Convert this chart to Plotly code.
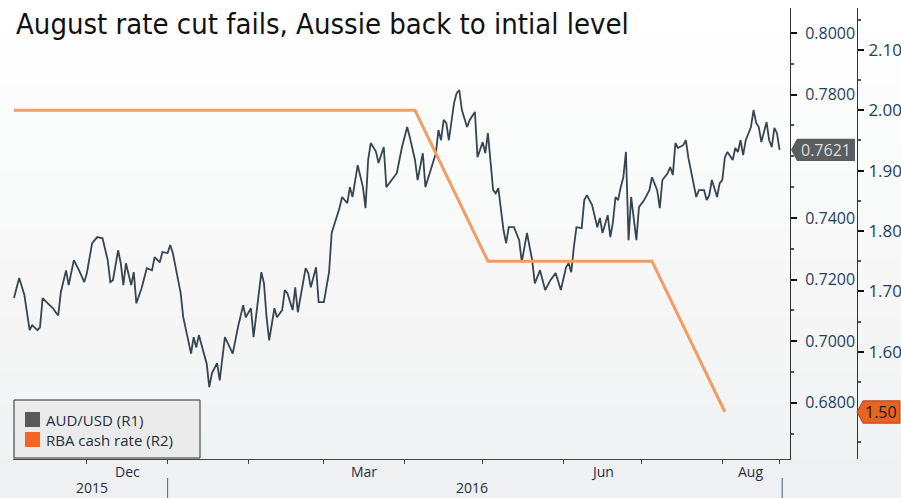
import plotly.graph_objects as go

# ---------------- data ----------------
aud_dates = [
    "2015-11-03", "2015-11-05", "2015-11-07", "2015-11-09", "2015-11-10", "2015-11-12", "2015-11-13",
    "2015-11-14", "2015-11-16", "2015-11-18", "2015-11-19", "2015-11-20", "2015-11-21", "2015-11-23",
    "2015-11-24", "2015-11-26", "2015-11-28", "2015-11-30", "2015-12-01", "2015-12-03", "2015-12-05",
    "2015-12-07", "2015-12-09", "2015-12-10", "2015-12-11", "2015-12-13", "2015-12-14", "2015-12-15",
    "2015-12-16", "2015-12-18", "2015-12-19", "2015-12-20", "2015-12-22", "2015-12-24", "2015-12-26",
    "2015-12-27", "2015-12-29", "2015-12-30", "2016-01-01", "2016-01-02", "2016-01-03", "2016-01-05",
    "2016-01-06", "2016-01-07", "2016-01-08", "2016-01-10", "2016-01-11", "2016-01-12", "2016-01-13",
    "2016-01-15", "2016-01-16", "2016-01-17", "2016-01-18", "2016-01-20", "2016-01-21", "2016-01-23",
    "2016-01-25", "2016-01-26", "2016-01-28", "2016-01-30", "2016-01-31", "2016-02-02", "2016-02-03",
    "2016-02-06", "2016-02-07", "2016-02-08", "2016-02-09", "2016-02-11", "2016-02-12", "2016-02-14",
    "2016-02-15", "2016-02-16", "2016-02-18", "2016-02-19", "2016-02-20", "2016-02-23", "2016-02-24",
    "2016-02-25", "2016-02-27", "2016-02-28", "2016-03-01", "2016-03-03", "2016-03-04", "2016-03-06",
    "2016-03-07", "2016-03-08", "2016-03-10", "2016-03-11", "2016-03-12", "2016-03-14", "2016-03-16",
    "2016-03-17", "2016-03-18", "2016-03-19", "2016-03-21", "2016-03-22", "2016-03-24", "2016-03-25",
    "2016-03-27", "2016-03-29", "2016-03-31", "2016-04-02", "2016-04-03", "2016-04-05", "2016-04-06",
    "2016-04-08", "2016-04-09", "2016-04-11", "2016-04-13", "2016-04-14", "2016-04-15", "2016-04-16",
    "2016-04-17", "2016-04-18", "2016-04-20", "2016-04-21", "2016-04-22", "2016-04-23", "2016-04-25",
    "2016-04-26", "2016-04-28", "2016-04-29", "2016-05-01", "2016-05-02", "2016-05-03", "2016-05-05",
    "2016-05-06", "2016-05-07", "2016-05-09", "2016-05-10", "2016-05-11", "2016-05-13", "2016-05-15",
    "2016-05-16", "2016-05-18", "2016-05-20", "2016-05-21", "2016-05-23", "2016-05-25", "2016-05-27",
    "2016-05-29", "2016-05-31", "2016-06-02", "2016-06-03", "2016-06-04", "2016-06-05", "2016-06-06",
    "2016-06-08", "2016-06-09", "2016-06-10", "2016-06-12", "2016-06-14", "2016-06-15", "2016-06-16",
    "2016-06-18", "2016-06-19", "2016-06-20", "2016-06-21", "2016-06-22", "2016-06-23", "2016-06-24",
    "2016-06-25", "2016-06-26", "2016-06-27", "2016-06-28", "2016-06-29", "2016-06-30", "2016-07-02",
    "2016-07-04", "2016-07-05", "2016-07-07", "2016-07-08", "2016-07-09", "2016-07-11", "2016-07-12",
    "2016-07-13", "2016-07-14", "2016-07-15", "2016-07-17", "2016-07-18", "2016-07-19", "2016-07-21",
    "2016-07-22", "2016-07-23", "2016-07-25", "2016-07-26", "2016-07-27", "2016-07-28", "2016-07-30",
    "2016-07-31", "2016-08-01", "2016-08-02", "2016-08-03", "2016-08-05", "2016-08-06", "2016-08-07",
    "2016-08-08", "2016-08-09", "2016-08-10", "2016-08-12", "2016-08-13", "2016-08-14", "2016-08-15",
    "2016-08-16", "2016-08-18", "2016-08-19", "2016-08-20", "2016-08-21", "2016-08-22", "2016-08-23",
]
aud_values = [
    0.7140, 0.7205, 0.7150, 0.7036, 0.7052, 0.7036, 0.7045,
    0.7140, 0.7123, 0.7107, 0.7094, 0.7084, 0.7159, 0.7230,
    0.7182, 0.7263, 0.7230, 0.7192, 0.7221, 0.7318, 0.7338,
    0.7334, 0.7263, 0.7192, 0.7198, 0.7295, 0.7253, 0.7182,
    0.7253, 0.7182, 0.7224, 0.7123, 0.7172, 0.7237, 0.7230,
    0.7273, 0.7256, 0.7289, 0.7286, 0.7312, 0.7286, 0.7205,
    0.7157, 0.7078, 0.7035, 0.6960, 0.7013, 0.6980, 0.7020,
    0.6961, 0.6927, 0.6851, 0.6896, 0.6929, 0.6873, 0.7013,
    0.6980, 0.6960, 0.7045, 0.7117, 0.7078, 0.7107, 0.7013,
    0.7224, 0.7188, 0.7078, 0.7003, 0.7107, 0.7078, 0.7101,
    0.7166, 0.7156, 0.7101, 0.7175, 0.7094, 0.7237, 0.7221,
    0.7175, 0.7240, 0.7127, 0.7127, 0.7224, 0.7351, 0.7403,
    0.7432, 0.7468, 0.7448, 0.7500, 0.7468, 0.7571, 0.7500,
    0.7432, 0.7588, 0.7643, 0.7615, 0.7578, 0.7630, 0.7500,
    0.7523, 0.7545, 0.7630, 0.7695, 0.7662, 0.7588, 0.7523,
    0.7610, 0.7500, 0.7555, 0.7610, 0.7685, 0.7652, 0.7718,
    0.7708, 0.7652, 0.7773, 0.7805, 0.7815, 0.7750, 0.7695,
    0.7718, 0.7744, 0.7597, 0.7646, 0.7610, 0.7675, 0.7490,
    0.7480, 0.7497, 0.7360, 0.7318, 0.7370, 0.7370, 0.7328,
    0.7257, 0.7351, 0.7263, 0.7188, 0.7230, 0.7166, 0.7198,
    0.7221, 0.7166, 0.7240, 0.7253, 0.7224, 0.7305, 0.7370,
    0.7367, 0.7458, 0.7474, 0.7442, 0.7370, 0.7400, 0.7351,
    0.7409, 0.7338, 0.7386, 0.7468, 0.7458, 0.7500, 0.7532,
    0.7614, 0.7328, 0.7468, 0.7393, 0.7328, 0.7435, 0.7458,
    0.7490, 0.7532, 0.7490, 0.7432, 0.7523, 0.7545, 0.7565,
    0.7539, 0.7643, 0.7627, 0.7636, 0.7652, 0.7594, 0.7513,
    0.7468, 0.7490, 0.7490, 0.7458, 0.7474, 0.7523, 0.7468,
    0.7513, 0.7523, 0.7597, 0.7614, 0.7588, 0.7627, 0.7614,
    0.7652, 0.7604, 0.7652, 0.7695, 0.7750, 0.7708, 0.7695,
    0.7646, 0.7711, 0.7652, 0.7630, 0.7692, 0.7675, 0.7621,
]

rba_dates = ["2015-11-03", "2015-12-01", "2016-02-02", "2016-03-01", "2016-04-05",
             "2016-05-03", "2016-06-07", "2016-07-05", "2016-08-02"]
rba_values = [2.00, 2.00, 2.00, 2.00, 2.00, 1.75, 1.75, 1.75, 1.50]

series_names = ["AUD/USD (R1)", "RBA cash rate (R2)"]
title_text = "August rate cut fails, Aussie back to intial level"

r1_ticks = [0.68, 0.70, 0.72, 0.74, 0.78, 0.80]
r2_ticks = [1.60, 1.70, 1.80, 1.90, 2.00, 2.10]
month_ticks = ["2015-12-01", "2016-01-01", "2016-02-01", "2016-03-01", "2016-04-01",
               "2016-05-01", "2016-06-01", "2016-07-01", "2016-08-01", "2016-08-23"]
month_labels = ["Dec", "Mar", "Jun", "Aug"]
month_label_pos = ["2015-12-16 12:00", "2016-03-16 12:00", "2016-06-16", "2016-08-12"]
year_labels = ["2015", "2016"]
year_label_pos = ["2015-12-03", "2016-04-27"]
year_breaks = ["2016-01-01", "2016-08-24"]

# ---------------- style ----------------
TITLE_FONT = "Liberation Sans Narrow, DejaVu Sans Condensed, sans-serif"
FONT = "Open Sans, Noto Sans, DejaVu Sans, sans-serif"
AUD_COLOR = "#36454f"
RBA_COLOR = "#f39c63"
RBA_LEGEND = "#f26522"
TICK_COLOR = "#1f3f60"
TEXT_DARK = "#1e2e3e"

W, H = 901, 498
ML, MR, MT, MB = 13, 44, 8, 39
PW = W - ML - MR
PH = H - MT - MB


def px_x(p):
    return (p - ML) / PW


def px_y(p):
    return (H - MB - p) / PH


fig = go.Figure()

fig.add_trace(go.Scatter(x=aud_dates, y=aud_values, mode="lines",
                         line=dict(color=AUD_COLOR, width=1.8),
                         showlegend=False, yaxis="y", name=series_names[0]))
fig.add_trace(go.Scatter(x=rba_dates, y=rba_values, mode="lines",
                         line=dict(color=RBA_COLOR, width=3),
                         showlegend=False, yaxis="y2", name=series_names[1]))

shapes = []
# background gradient bands
n = 16
for i in range(n):
    t = i / (n - 1)
    c0 = (255, 255, 255)
    c1 = (241, 242, 243)
    col = tuple(int(round(a + (b - a) * t)) for a, b in zip(c0, c1))
    shapes.append(dict(type="rect", xref="paper", yref="paper",
                       x0=-0.02, x1=1.07, y0=1.02 - (i + 1) * 1.02 / n, y1=1.02 - i * 1.02 / n,
                       fillcolor="rgb(%d,%d,%d)" % col, line=dict(width=0), layer="below"))
shapes.append(dict(type="rect", xref="paper", yref="paper", x0=-0.02, x1=1.07,
                   y0=-0.2, y1=0, fillcolor="#eef0f1", line=dict(width=0), layer="below"))
# year separators
for d in year_breaks:
    shapes.append(dict(type="line", xref="x", yref="paper", x0=d, x1=d,
                       y0=px_y(478), y1=px_y(499), line=dict(color="#3f6a96", width=1)))

# legend box and swatches
shapes.append(dict(type="rect", xref="paper", yref="paper",
                   x0=px_x(14), x1=px_x(200), y0=px_y(458), y1=px_y(400),
                   fillcolor="#ebebeb", line=dict(color="#2a2a2a", width=1)))
shapes.append(dict(type="rect", xref="paper", yref="paper",
                   x0=px_x(25), x1=px_x(40), y0=px_y(427), y1=px_y(412),
                   fillcolor="#5a5a5a", line=dict(width=0)))
shapes.append(dict(type="rect", xref="paper", yref="paper",
                   x0=px_x(25), x1=px_x(40), y0=px_y(447), y1=px_y(432),
                   fillcolor=RBA_LEGEND, line=dict(width=0)))

# last value label AUD/USD
last_val = aud_values[-1]
h1 = 0.0036
shapes.append(dict(type="path", xref="paper", yref="y",
                   path="M %f,%f L %f,%f L %f,%f L %f,%f L %f,%f Z" % (
                       px_x(791), last_val, px_x(797), last_val + h1, px_x(855), last_val + h1,
                       px_x(855), last_val - h1, px_x(797), last_val - h1),
                   fillcolor="#5b5d5f", line=dict(width=0)))
# last value label RBA
last_rate = rba_values[-1]
h2 = 0.0185
shapes.append(dict(type="path", xref="paper", yref="y2",
                   path="M %f,%f L %f,%f L %f,%f L %f,%f L %f,%f Z" % (
                       px_x(857), last_rate, px_x(863), last_rate + h2, px_x(900), last_rate + h2,
                       px_x(900), last_rate - h2, px_x(863), last_rate - h2),
                   fillcolor="#e8631f", line=dict(color="#b04510", width=1)))

annotations = []
annotations.append(dict(text=title_text, xref="paper", yref="paper", x=px_x(14), y=px_y(5),
                        xanchor="left", yanchor="top", showarrow=False,
                        font=dict(family=TITLE_FONT, size=29, color="#111111")))
annotations.append(dict(text="%.4f" % last_val, xref="paper", yref="y", x=px_x(826), y=last_val,
                        xanchor="center", yanchor="middle", showarrow=False,
                        font=dict(family=FONT, size=16, color="#dcdcdc")))
annotations.append(dict(text="%.2f" % last_rate, xref="paper", yref="y2", x=px_x(881), y=last_rate,
                        xanchor="center", yanchor="middle", showarrow=False,
                        font=dict(family=FONT, size=16, color="#1a1a1a")))
for i, name in enumerate(series_names):
    annotations.append(dict(text=name, xref="paper", yref="paper", x=px_x(44), y=px_y(420 + 20 * i),
                            xanchor="left", yanchor="middle", showarrow=False,
                            font=dict(family=FONT, size=15, color=TEXT_DARK)))
for lab, pos in zip(month_labels, month_label_pos):
    annotations.append(dict(text=lab, xref="x", yref="paper", x=pos, y=px_y(471),
                            xanchor="center", yanchor="middle", showarrow=False,
                            font=dict(family=FONT, size=14, color=TEXT_DARK)))
for lab, pos in zip(year_labels, year_label_pos):
    annotations.append(dict(text=lab, xref="x", yref="paper", x=pos, y=px_y(488),
                            xanchor="center", yanchor="middle", showarrow=False,
                            font=dict(family=FONT, size=14, color=TEXT_DARK)))

fig.update_layout(
    width=W, height=H,
    margin=dict(l=ML, r=MR, t=MT, b=MB, pad=0, autoexpand=False),
    paper_bgcolor="#ffffff",
    plot_bgcolor="rgba(0,0,0,0)",
    font=dict(family=FONT, size=14, color=TICK_COLOR),
    shapes=shapes,
    annotations=annotations,
    showlegend=False,
    xaxis=dict(type="date", domain=[0, px_x(790)], automargin=False,
               range=["2015-11-02 15:00", "2016-08-27 00:00"],
               showgrid=False, zeroline=False, showline=True, linecolor="#444444", linewidth=1,
               ticks="outside", ticklen=4, tickcolor="#444444",
               tickvals=month_ticks, showticklabels=False),
    yaxis=dict(side="right", anchor="x", range=[0.6618, 0.8081], automargin=False,
               tickvals=r1_ticks, tickformat=".4f",
               showgrid=False, zeroline=False, showline=True, linecolor="#333333", linewidth=1,
               ticks="outside", ticklen=6, tickwidth=2, tickcolor="#111111",
               ticklabelstandoff=5,
               tickfont=dict(family=FONT, size=16, color=TICK_COLOR),
               minor=dict(dtick=0.01, tick0=0, ticks="outside", ticklen=3, tickcolor="#555555")),
    yaxis2=dict(side="right", overlaying="y", anchor="free", position=1.0, automargin=False,
                range=[1.4221, 2.1696], tickvals=r2_ticks, tickformat=".2f",
                showgrid=False, zeroline=False, showline=True, linecolor="#333333", linewidth=1,
                ticks="outside", ticklen=6, tickwidth=2, tickcolor="#111111",
                ticklabelstandoff=1,
                tickfont=dict(family=FONT, size=17, color=TICK_COLOR),
                minor=dict(dtick=0.05, tick0=0, ticks="outside", ticklen=3, tickcolor="#555555")),
)

fig.write_html("out.html")
